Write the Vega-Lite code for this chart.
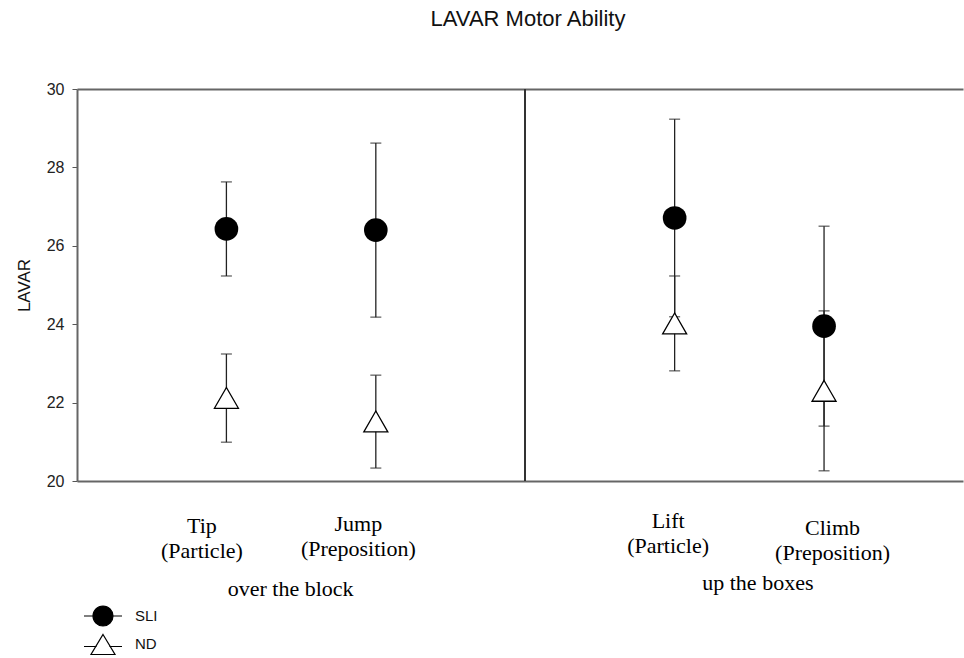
{
  "$schema": "https://vega.github.io/schema/vega-lite/v6.json",
  "width": 886,
  "height": 392,
  "autosize": {"type": "none"},
  "padding": {"left": 77, "top": 89, "right": 1, "bottom": 177},
  "background": "white",
  "title": {"text": "LAVAR Motor Ability", "font": "Liberation Sans", "fontSize": 22, "fontWeight": "normal", "color": "#111", "anchor": "middle", "offset": 50, "dx": 8},
  "data": {"values": [
    {"verb": "Tip", "x": 1, "group": "SLI", "mean": 26.43, "lo": 25.23, "hi": 27.63},
    {"verb": "Tip", "x": 1, "group": "ND", "mean": 22.12, "lo": 20.99, "hi": 23.24},
    {"verb": "Jump", "x": 2, "group": "SLI", "mean": 26.40, "lo": 24.18, "hi": 28.62},
    {"verb": "Jump", "x": 2, "group": "ND", "mean": 21.52, "lo": 20.33, "hi": 22.70},
    {"verb": "Lift", "x": 4, "group": "SLI", "mean": 26.71, "lo": 24.19, "hi": 29.23},
    {"verb": "Lift", "x": 4, "group": "ND", "mean": 24.02, "lo": 22.81, "hi": 25.23},
    {"verb": "Climb", "x": 5, "group": "SLI", "mean": 23.95, "lo": 21.40, "hi": 26.50},
    {"verb": "Climb", "x": 5, "group": "ND", "mean": 22.30, "lo": 20.26, "hi": 24.34}
  ]},
  "layer": [
    {
      "mark": {"type": "rule", "color": "#222", "strokeWidth": 1.3},
      "encoding": {
        "x": {"field": "x", "type": "quantitative", "scale": {"domain": [0, 5.93], "nice": false, "zero": false},
          "axis": {"orient": "bottom", "values": [1, 2, 4, 5], "grid": false, "ticks": false, "domain": true, "domainColor": "#666", "domainWidth": 2, "title": null,
            "labelFont": "Liberation Serif", "labelFontSize": 22, "labelColor": "#000", "labelBaseline": "top", "labelLineHeight": 25, "labelAlign": "center",
            "labelPadding": {"condition": [{"test": "datum.value == 2", "value": 32}, {"test": "datum.value == 4", "value": 29}, {"test": "datum.value == 5", "value": 36}], "value": 34},
            "labelOffset": {"condition": [{"test": "datum.value == 1", "value": -25}, {"test": "datum.value == 2", "value": -18}, {"test": "datum.value == 4", "value": -7}], "value": 8},
            "labelExpr": "datum.value == 1 ? ['Tip', '(Particle)'] : datum.value == 2 ? ['Jump', '(Preposition)'] : datum.value == 4 ? ['Lift', '(Particle)'] : ['Climb', '(Preposition)']"}},
        "y": {"field": "lo", "type": "quantitative", "scale": {"domain": [20, 30], "nice": false, "zero": false},
          "axis": {"values": [20, 22, 24, 26, 28, 30], "grid": false, "title": "LAVAR", "titleFont": "Liberation Sans", "titleFontSize": 17, "titleFontWeight": "normal", "titleColor": "#111", "titlePadding": 13,
            "labelFont": "Liberation Sans", "labelFontSize": 16, "labelColor": "#222", "labelPadding": 8, "tickSize": 5, "tickColor": "#555", "domainColor": "#666", "domainWidth": 2}},
        "y2": {"field": "hi"}
      }
    },
    {
      "mark": {"type": "tick", "orient": "horizontal", "color": "#222", "size": 11, "thickness": 1.3},
      "encoding": {
        "x": {"field": "x", "type": "quantitative",
          "axis": {"orient": "bottom", "values": [1.5, 4.5], "offset": 98, "domain": false, "ticks": false, "grid": false, "title": null,
            "labelFont": "Liberation Serif", "labelFontSize": 22, "labelColor": "#000", "labelBaseline": "top",
            "labelPadding": {"condition": {"test": "datum.value == 4.5", "value": -7}, "value": -1},
            "labelOffset": {"condition": {"test": "datum.value == 4.5", "value": 8}, "value": -11},
            "labelExpr": "datum.value == 1.5 ? 'over the block' : 'up the boxes'"}},
        "y": {"field": "lo", "type": "quantitative"}
      }
    },
    {
      "mark": {"type": "tick", "orient": "horizontal", "color": "#222", "size": 11, "thickness": 1.3},
      "encoding": {
        "x": {"field": "x", "type": "quantitative",
          "axis": {"orient": "top", "labels": false, "ticks": false, "grid": false, "domain": true, "domainColor": "#666", "domainWidth": 2, "title": null}},
        "y": {"field": "hi", "type": "quantitative"}
      }
    },
    {
      "mark": {"type": "rule", "color": "#333", "strokeWidth": 1.5},
      "encoding": {"x": {"datum": 3, "type": "quantitative", "axis": null}}
    },
    {
      "transform": [{"filter": "datum.group == 'SLI'"}],
      "mark": {"type": "point", "shape": "circle", "filled": true, "color": "#000", "size": 560, "opacity": 1},
      "encoding": {
        "x": {"field": "x", "type": "quantitative", "axis": null},
        "y": {"field": "mean", "type": "quantitative"}
      }
    },
    {
      "transform": [{"filter": "datum.group == 'ND'"}],
      "mark": {"type": "point", "shape": "triangle-up", "fill": "#fff", "stroke": "#000", "strokeWidth": 1.3, "size": 576, "opacity": 1, "fillOpacity": 1},
      "encoding": {
        "x": {"field": "x", "type": "quantitative", "axis": null},
        "y": {"field": "mean", "type": "quantitative"}
      }
    },
    {
      "mark": {"type": "point", "opacity": 0, "clip": true, "stroke": "#000", "strokeWidth": 1.2},
      "encoding": {
        "x": {"field": "x", "type": "quantitative", "axis": null},
        "y": {"field": "mean", "type": "quantitative"},
        "shape": {"field": "group", "type": "nominal", "scale": {"domain": ["SLI", "ND"], "range": ["M-1.9,0H-1M1,0H1.9M-1,0A1,1 0 1,0 1,0A1,1 0 1,0 -1,0Z", "M-1.9,0.25H-0.63M0.63,0.25H1.9M0,-0.95L1.2,1.05H-1.2Z"]},
          "legend": {"orient": "none", "legendX": 15, "legendY": 516, "title": null, "symbolOpacity": 1, "symbolSize": 400, "symbolStrokeWidth": 1.2, "symbolStrokeColor": "#000", "labelFont": "Liberation Sans", "labelFontSize": 15, "labelColor": "#111", "labelOffset": 21, "rowPadding": 3, "padding": 0,
            "encode": {"symbols": {"update": {"stroke": {"value": "#000"}, "strokeWidth": {"value": 1.2}, "opacity": {"value": 1}, "strokeOpacity": {"value": 1}}}}}},
        "fill": {"field": "group", "type": "nominal", "scale": {"domain": ["SLI", "ND"], "range": ["#000", "#fff"]},
          "legend": {"orient": "none", "legendX": 15, "legendY": 516, "title": null, "symbolOpacity": 1, "symbolSize": 400, "symbolStrokeWidth": 1.2, "symbolStrokeColor": "#000", "labelFont": "Liberation Sans", "labelFontSize": 15, "labelColor": "#111", "labelOffset": 21, "rowPadding": 3, "padding": 0,
            "encode": {"symbols": {"update": {"stroke": {"value": "#000"}, "strokeWidth": {"value": 1.2}, "opacity": {"value": 1}, "strokeOpacity": {"value": 1}}}}}}
      }
    }
  ],
  "resolve": {"axis": {"x": "independent"}},
  "config": {"view": {"stroke": null}}
}
